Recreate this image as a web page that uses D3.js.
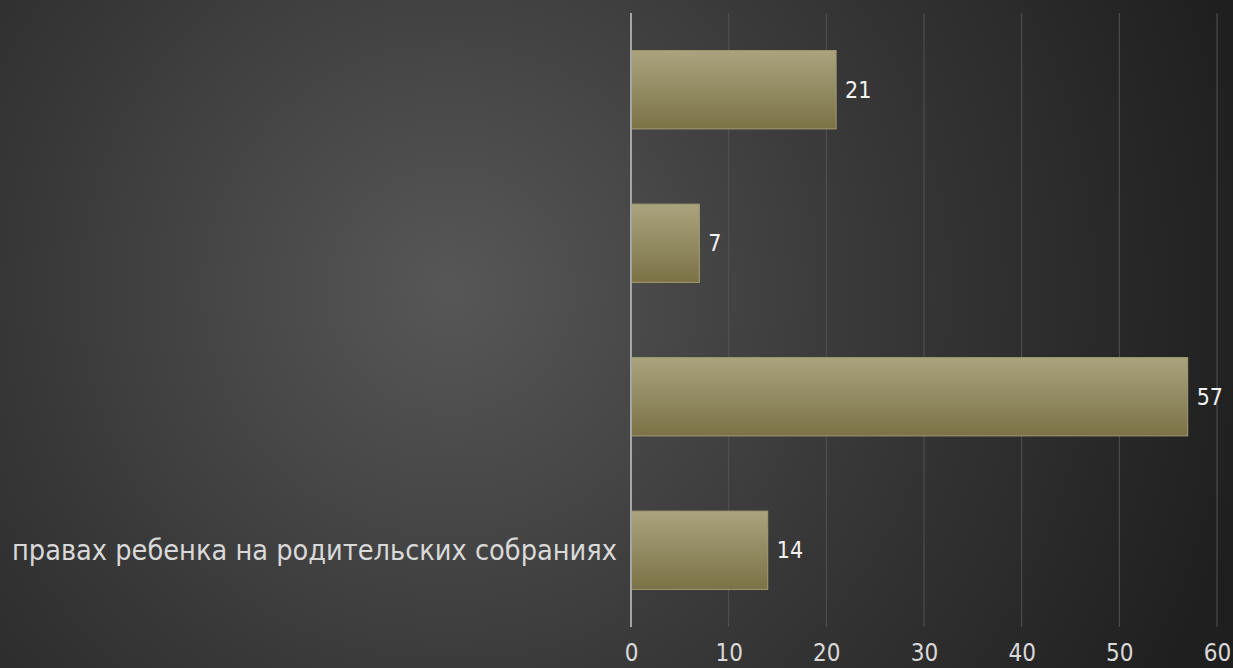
<!DOCTYPE html>
<html>
<head>
<meta charset="utf-8">
<script src="https://cdn.jsdelivr.net/npm/d3@7"></script>
<style>
  html, body { margin: 0; padding: 0; background: #2a2a2a; }
  svg { display: block; }
  text { font-family: "DejaVu Sans Condensed", "DejaVu Sans", sans-serif; font-stretch: condensed; }
</style>
</head>
<body>
<svg id="chart"></svg>
<script>
// данные графика
const categories = ['', '', '', 'правах ребенка на родительских собраниях'];
const values = [21, 7, 57, 14];
const tickValues = [0, 10, 20, 30, 40, 50, 60];

const width = 1233;
const height = 668;
const margin = { top: 13, right: 16, bottom: 41, left: 631 };

const svg = d3.select('#chart')
    .attr('width', width)
    .attr('height', height);

const defs = svg.append('defs');

// фон с радиальным градиентом
const bg = defs.append('radialGradient')
    .attr('id', 'bg')
    .attr('gradientUnits', 'userSpaceOnUse')
    .attr('cx', 450).attr('cy', 290).attr('r', 820);
bg.append('stop').attr('offset', '0%').attr('stop-color', '#575757');
bg.append('stop').attr('offset', '55%').attr('stop-color', '#363636');
bg.append('stop').attr('offset', '100%').attr('stop-color', '#1f1f1f');

const barGrad = defs.append('linearGradient')
    .attr('id', 'bar')
    .attr('x1', 0).attr('y1', 0).attr('x2', 0).attr('y2', 1);
barGrad.append('stop').attr('offset', '0%').attr('stop-color', '#aaa37d');
barGrad.append('stop').attr('offset', '100%').attr('stop-color', '#7b7246');

svg.append('rect')
    .attr('width', width)
    .attr('height', height)
    .attr('fill', 'url(#bg)');

const x = d3.scaleLinear()
    .domain([0, 60])
    .range([margin.left, width - margin.right]);

const y = d3.scaleBand()
    .domain(d3.range(values.length))
    .range([margin.top, height - margin.bottom])
    .paddingInner(0.49)
    .paddingOuter(0.245);

// вертикальная сетка
svg.append('g')
    .selectAll('line')
    .data(tickValues.slice(1))
    .enter()
    .append('line')
    .attr('x1', d => x(d))
    .attr('x2', d => x(d))
    .attr('y1', margin.top)
    .attr('y2', height - margin.bottom)
    .attr('stroke', '#525252')
    .attr('stroke-width', 1);

// ось X (подписи)
const xAxis = svg.append('g')
    .attr('transform', `translate(0,${height - margin.bottom})`)
    .call(d3.axisBottom(x).tickValues(tickValues).tickSize(0).tickPadding(17));
xAxis.select('.domain').remove();
xAxis.selectAll('text')
    .attr('fill', '#d9d9d9')
    .style('font-size', '24px');

// полосы
svg.append('g')
    .selectAll('rect')
    .data(values)
    .enter()
    .append('rect')
    .attr('x', x(0))
    .attr('y', (d, i) => y(i))
    .attr('width', d => x(d) - x(0))
    .attr('height', y.bandwidth())
    .attr('fill', 'url(#bar)')
    .attr('stroke', '#a49b72')
    .attr('stroke-width', 1);

// ось Y
svg.append('line')
    .attr('x1', x(0)).attr('x2', x(0))
    .attr('y1', margin.top)
    .attr('y2', height - margin.bottom)
    .attr('stroke', '#a6a6a6')
    .attr('stroke-width', 2);

// подписи категорий
svg.append('g')
    .selectAll('text')
    .data(categories)
    .enter()
    .append('text')
    .text(d => d)
    .attr('x', x(0) - 14)
    .attr('y', (d, i) => y(i) + y.bandwidth() / 2)
    .attr('dy', '0.35em')
    .attr('text-anchor', 'end')
    .attr('fill', '#d9d9d9')
    .style('font-size', '28.6px');

// подписи значений
svg.append('g')
    .selectAll('text')
    .data(values)
    .enter()
    .append('text')
    .text(d => d)
    .attr('x', d => x(d) + 9)
    .attr('y', (d, i) => y(i) + y.bandwidth() / 2)
    .attr('dy', '0.35em')
    .attr('fill', '#f2f2f2')
    .style('font-size', '23px');
</script>
</body>
</html>
